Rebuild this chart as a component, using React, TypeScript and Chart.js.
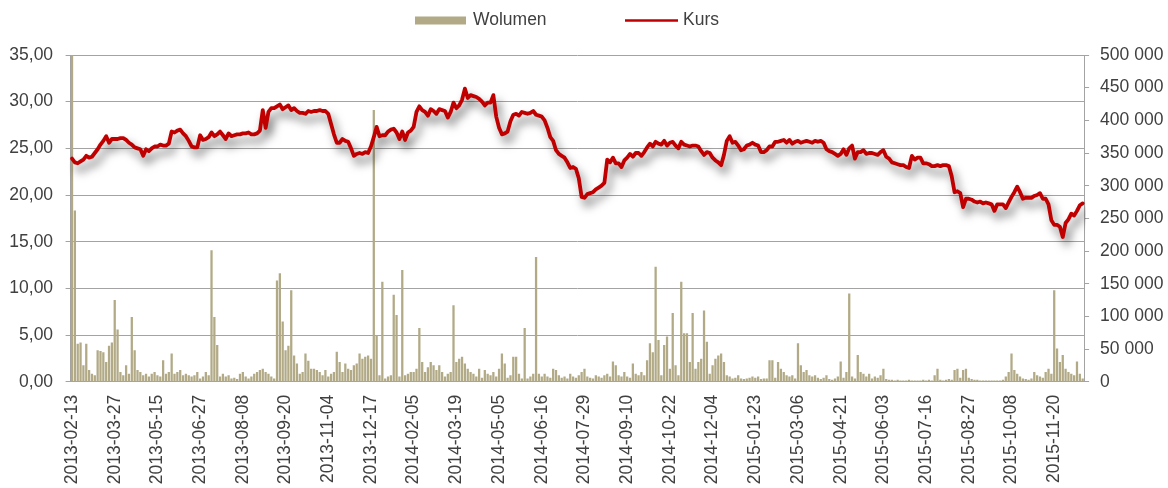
import React, { useEffect, useRef } from 'react';
import { Chart, registerables } from 'chart.js';

Chart.register(...registerables);

// x-axis tick labels: one every 15 points (each point = 2 trading days)
const TICK_LABELS = [
  '2013-02-13', '2013-03-27', '2013-05-15', '2013-06-27', '2013-08-08', '2013-09-20',
  '2013-11-04', '2013-12-17', '2014-02-05', '2014-03-19', '2014-05-05', '2014-06-16',
  '2014-07-29', '2014-09-10', '2014-10-22', '2014-12-04', '2015-01-23', '2015-03-06',
  '2015-04-21', '2015-06-03', '2015-07-16', '2015-08-27', '2015-10-08', '2015-11-20',
];
const TICK_EVERY = 15;

// Kurs (price), left axis
const PRICE = [
  23.9, 23.5, 23.4, 23.6, 23.8, 24.2, 24.0, 24.1, 24.5, 24.9,
  25.4, 25.8, 26.3, 25.6, 26.0, 26.0, 26.0, 26.1, 26.1, 25.9,
  25.6, 25.4, 25.1, 25.0, 24.9, 24.2, 24.9, 24.7, 25.0, 25.2,
  25.2, 25.4, 25.3, 25.3, 25.5, 26.8, 26.7, 26.9, 27.0, 26.6,
  26.3, 25.8, 25.2, 25.1, 25.1, 26.4, 25.9, 26.0, 26.2, 26.7,
  26.3, 26.5, 26.8, 26.4, 26.0, 26.6, 26.3, 26.4, 26.5, 26.5,
  26.6, 26.6, 26.7, 26.5, 26.5, 26.6, 26.9, 29.1, 27.2, 28.9,
  29.3, 29.3, 29.5, 29.7, 29.2, 29.4, 29.6, 29.1, 29.3, 29.0,
  28.8, 28.8, 28.7, 29.0, 28.9, 29.0, 29.0, 29.1, 29.0, 29.0,
  28.7, 27.6, 26.5, 25.6, 25.6, 26.0, 25.8, 25.7, 25.0, 24.2,
  24.4, 24.5, 24.4, 24.6, 24.5, 25.2, 26.2, 27.3, 26.3, 26.4,
  26.4, 26.8, 27.0, 27.1, 26.7, 26.0, 26.8, 25.9, 26.7, 26.9,
  27.3, 28.9, 29.5, 29.1, 28.9, 28.5, 29.2, 29.0, 28.7, 29.2,
  29.1, 29.0, 28.3, 28.9, 29.9, 29.3, 29.6, 30.2, 31.4, 30.4,
  30.7, 30.6, 30.5, 30.3, 30.0, 29.6, 29.9, 29.9, 30.7, 28.4,
  27.2, 26.5, 26.6, 26.8, 27.9, 28.6, 28.7, 28.5, 28.9, 28.8,
  28.7, 28.8, 29.0, 28.6, 28.5, 28.4, 28.0, 27.2, 26.2, 25.8,
  24.8, 24.4, 24.2, 24.0, 23.5, 22.9, 23.0, 22.8, 21.8, 19.8,
  19.7, 20.1, 20.2, 20.3, 20.6, 20.8, 21.0, 21.3, 23.8, 23.5,
  24.0, 23.4, 23.4, 23.0, 23.7, 24.0, 24.4, 24.1, 24.5, 24.5,
  24.2, 24.6, 25.1, 25.5, 25.2, 25.7, 25.5, 25.4, 25.8, 25.3,
  25.6, 25.7, 25.3, 25.0, 25.7, 25.4, 25.3, 25.2, 25.3, 25.3,
  25.2, 24.7, 24.3, 24.6, 24.5, 24.0, 23.7, 23.5, 23.2, 24.3,
  25.8, 26.3, 25.6, 25.7, 25.3, 24.8, 24.9, 25.3, 25.4, 25.6,
  25.4, 25.3, 24.6, 24.6, 24.8, 25.2, 25.2, 25.7, 25.7, 25.8,
  25.9, 25.6, 25.9, 25.5, 25.7, 25.8, 25.6, 25.7, 25.8, 25.7,
  25.6, 25.8, 25.7, 25.8, 25.6, 24.9, 24.7, 24.6, 24.4, 24.2,
  24.4, 24.9, 24.3, 25.0, 25.3, 23.9, 24.6, 24.6, 24.8, 24.4,
  24.5, 24.5, 24.4, 24.3, 24.6, 24.8, 24.1, 23.9, 23.5, 23.4,
  23.3, 23.2, 23.2, 23.0, 22.9, 24.2, 23.8, 24.0, 24.0, 23.4,
  23.4, 23.3, 23.1, 23.1, 23.2, 23.1, 23.2, 23.2, 23.1, 22.0,
  20.3, 20.4, 20.2, 18.7, 19.6, 19.6, 19.5, 19.3, 19.2, 19.3,
  19.1, 19.2, 19.1, 19.0, 18.3, 19.0, 19.0, 19.0, 18.6, 19.2,
  19.8, 20.3, 20.9, 20.3, 19.6, 19.7, 19.7, 19.7, 19.9, 20.0,
  20.2, 19.6, 19.6, 19.0, 17.3, 16.8, 16.8, 16.6, 15.5, 17.0,
  17.4, 18.0, 17.8, 18.3, 18.9, 19.1,
];

// Wolumen (volume, thousands of shares), right axis
const VOLUME_K = [
  500, 262, 58, 60, 25, 58, 18, 12, 10, 48,
  47, 45, 30, 55, 60, 125, 80, 15, 10, 25,
  12, 99, 48, 18, 15, 10, 12, 8, 12, 15,
  10, 8, 33, 12, 15, 43, 12, 15, 18, 10,
  12, 10, 8, 10, 15, 5, 8, 15, 10, 201,
  99, 56, 8, 12, 8, 10, 5, 6, 4, 12,
  15, 8, 5, 8, 12, 15, 18, 20, 15, 12,
  8, 5, 155, 166, 92, 48, 55, 140, 40, 28,
  12, 15, 43, 32, 20, 20, 18, 15, 10, 18,
  8, 12, 15, 46, 30, 15, 28, 20, 18, 25,
  28, 43, 35, 38, 40, 35, 416, 71, 10, 153,
  5, 8, 10, 133, 102, 8, 171, 10, 12, 15,
  15, 20, 82, 30, 15, 22, 30, 25, 18, 25,
  15, 8, 12, 15, 117, 30, 35, 38, 28, 20,
  15, 12, 8, 20, 6, 18, 12, 10, 15, 8,
  20, 43, 28, 6, 10, 38, 38, 12, 5, 82,
  5, 8, 12, 191, 12, 8, 12, 8, 6, 20,
  18, 10, 6, 8, 5, 12, 8, 6, 10, 15,
  20, 8, 6, 5, 10, 8, 6, 10, 12, 8,
  31, 25, 10, 8, 15, 8, 6, 28, 12, 10,
  15, 10, 33, 59, 45, 176, 64, 10, 56, 69,
  20, 105, 25, 10, 153, 74, 74, 30, 105, 20,
  30, 35, 109, 61, 12, 25, 35, 40, 43, 30,
  10, 8, 5, 6, 10, 5, 4, 5, 6, 8,
  6, 8, 4, 5, 5, 33, 33, 6, 30, 20,
  15, 10, 8, 10, 5, 59, 25, 15, 18, 10,
  8, 10, 6, 4, 6, 10, 4, 3, 5, 8,
  31, 6, 15, 135, 8, 5, 41, 15, 12, 8,
  12, 5, 8, 6, 10, 20, 4, 3, 3, 2,
  3, 2, 2, 2, 3, 2, 2, 2, 2, 3,
  2, 3, 2, 10, 20, 3, 2, 3, 4, 3,
  18, 20, 6, 18, 20, 6, 4, 3, 3, 2,
  2, 2, 2, 2, 2, 2, 2, 3, 8, 15,
  43, 18, 12, 8, 5, 4, 3, 5, 15, 10,
  8, 6, 15, 20, 12, 140, 51, 30, 41, 20,
  15, 12, 10, 31, 12, 5,
];

const CATEGORIES = PRICE.map((_, i) => String(i));

const VOL_COLOR = '#b2aa86';
const LINE_COLOR = '#c00000';
const GRID_COLOR = '#a3a3a3';
const TEXT_COLOR = '#404040';
const FONT_FAMILY = '"Liberation Sans", Arial, Helvetica, sans-serif';
const FONT_SIZE = 17.5;

const fmtPrice = (v: number) => Number(v).toFixed(2).replace('.', ',');
const fmtVol = (v: number) =>
  String(Math.round(Number(v) * 1000)).replace(/\B(?=(\d{3})+(?!\d))/g, ' ');

const shadowPlugin = {
  id: 'lineShadow',
  beforeDatasetDraw(chart: any, args: any) {
    if (chart.data.datasets[args.index].type !== 'line') return;
    const ctx = chart.ctx;
    ctx.save();
    ctx.shadowColor = 'rgba(0,0,0,0.55)';
    ctx.shadowBlur = 10;
    ctx.shadowOffsetX = 4;
    ctx.shadowOffsetY = 7;
  },
  afterDatasetDraw(chart: any, args: any) {
    if (chart.data.datasets[args.index].type !== 'line') return;
    chart.ctx.restore();
  },
};

const legendPlugin = {
  id: 'customLegend',
  afterDraw(chart: any) {
    const ctx = chart.ctx;
    const ds = chart.data.datasets;
    const y = 20.5;
    ctx.save();
    ctx.font = `${FONT_SIZE}px ${FONT_FAMILY}`;
    ctx.textBaseline = 'middle';
    ctx.textAlign = 'left';
    // Wolumen
    ctx.fillStyle = VOL_COLOR;
    ctx.fillRect(415, y - 4, 51, 8);
    ctx.fillStyle = TEXT_COLOR;
    ctx.fillText(ds[0].label, 473, y);
    // Kurs
    ctx.strokeStyle = LINE_COLOR;
    ctx.lineWidth = 2.5;
    ctx.beginPath();
    ctx.moveTo(625, y);
    ctx.lineTo(678, y);
    ctx.stroke();
    ctx.fillStyle = TEXT_COLOR;
    ctx.fillText(ds[1].label, 683, y);
    ctx.restore();
  },
};

export default function App() {
  const canvasRef = useRef<HTMLCanvasElement | null>(null);

  useEffect(() => {
    if (!canvasRef.current) return;
    Chart.defaults.font.family = FONT_FAMILY;
    Chart.defaults.color = TEXT_COLOR;
    const font = { size: FONT_SIZE, family: FONT_FAMILY };
    const chart = new Chart(canvasRef.current, {
      type: 'bar',
      data: {
        labels: CATEGORIES,
        datasets: [
          {
            type: 'bar',
            label: 'Wolumen',
            data: VOLUME_K,
            yAxisID: 'y1',
            backgroundColor: VOL_COLOR,
            borderWidth: 0,
            barPercentage: 0.8,
            categoryPercentage: 1,
            order: 1,
          } as any,
          {
            type: 'line',
            label: 'Kurs',
            data: PRICE,
            yAxisID: 'y',
            borderColor: LINE_COLOR,
            backgroundColor: LINE_COLOR,
            borderWidth: 3.8,
            pointRadius: 0,
            tension: 0,
            borderJoinStyle: 'round',
            borderCapStyle: 'round',
            order: 0,
          } as any,
        ],
      },
      options: {
        animation: false,
        responsive: true,
        maintainAspectRatio: false,
        layout: { padding: { top: 55, left: 0, right: 0, bottom: 0 } },
        plugins: {
          legend: { display: false },
          tooltip: { enabled: false },
        },
        scales: {
          x: {
            type: 'category',
            offset: true,
            grid: { display: false, drawTicks: false },
            border: { display: true, color: GRID_COLOR },
            ticks: {
              autoSkip: false,
              minRotation: 90,
              maxRotation: 90,
              padding: 13,
              color: TEXT_COLOR,
              font,
              callback: (_v: any, i: number) =>
                i % TICK_EVERY === 0 ? TICK_LABELS[i / TICK_EVERY] ?? null : null,
            },
            afterFit: (s: any) => {
              s.height = 106.3;
            },
          },
          y: {
            position: 'left',
            min: 0,
            max: 35,
            grid: { color: GRID_COLOR, tickLength: 5, tickColor: GRID_COLOR },
            border: { color: GRID_COLOR },
            ticks: { stepSize: 5, padding: 12.5, color: TEXT_COLOR, font, callback: (v: any) => fmtPrice(v) },
            afterFit: (s: any) => {
              s.width = 70.6;
            },
          },
          y1: {
            position: 'right',
            min: 0,
            max: 500,
            grid: { drawOnChartArea: false, tickLength: 5, color: GRID_COLOR },
            border: { color: GRID_COLOR },
            ticks: { stepSize: 50, padding: 11, color: TEXT_COLOR, font, callback: (v: any) => fmtVol(v) },
            afterFit: (s: any) => {
              s.width = 83.9;
            },
          },
        },
      } as any,
      plugins: [shadowPlugin, legendPlugin],
    });
    return () => chart.destroy();
  }, []);

  return (
    <div style={{ position: 'fixed', left: 0, top: 0, width: 1168, height: 488, background: '#fff' }}>
      <canvas ref={canvasRef} />
    </div>
  );
}
